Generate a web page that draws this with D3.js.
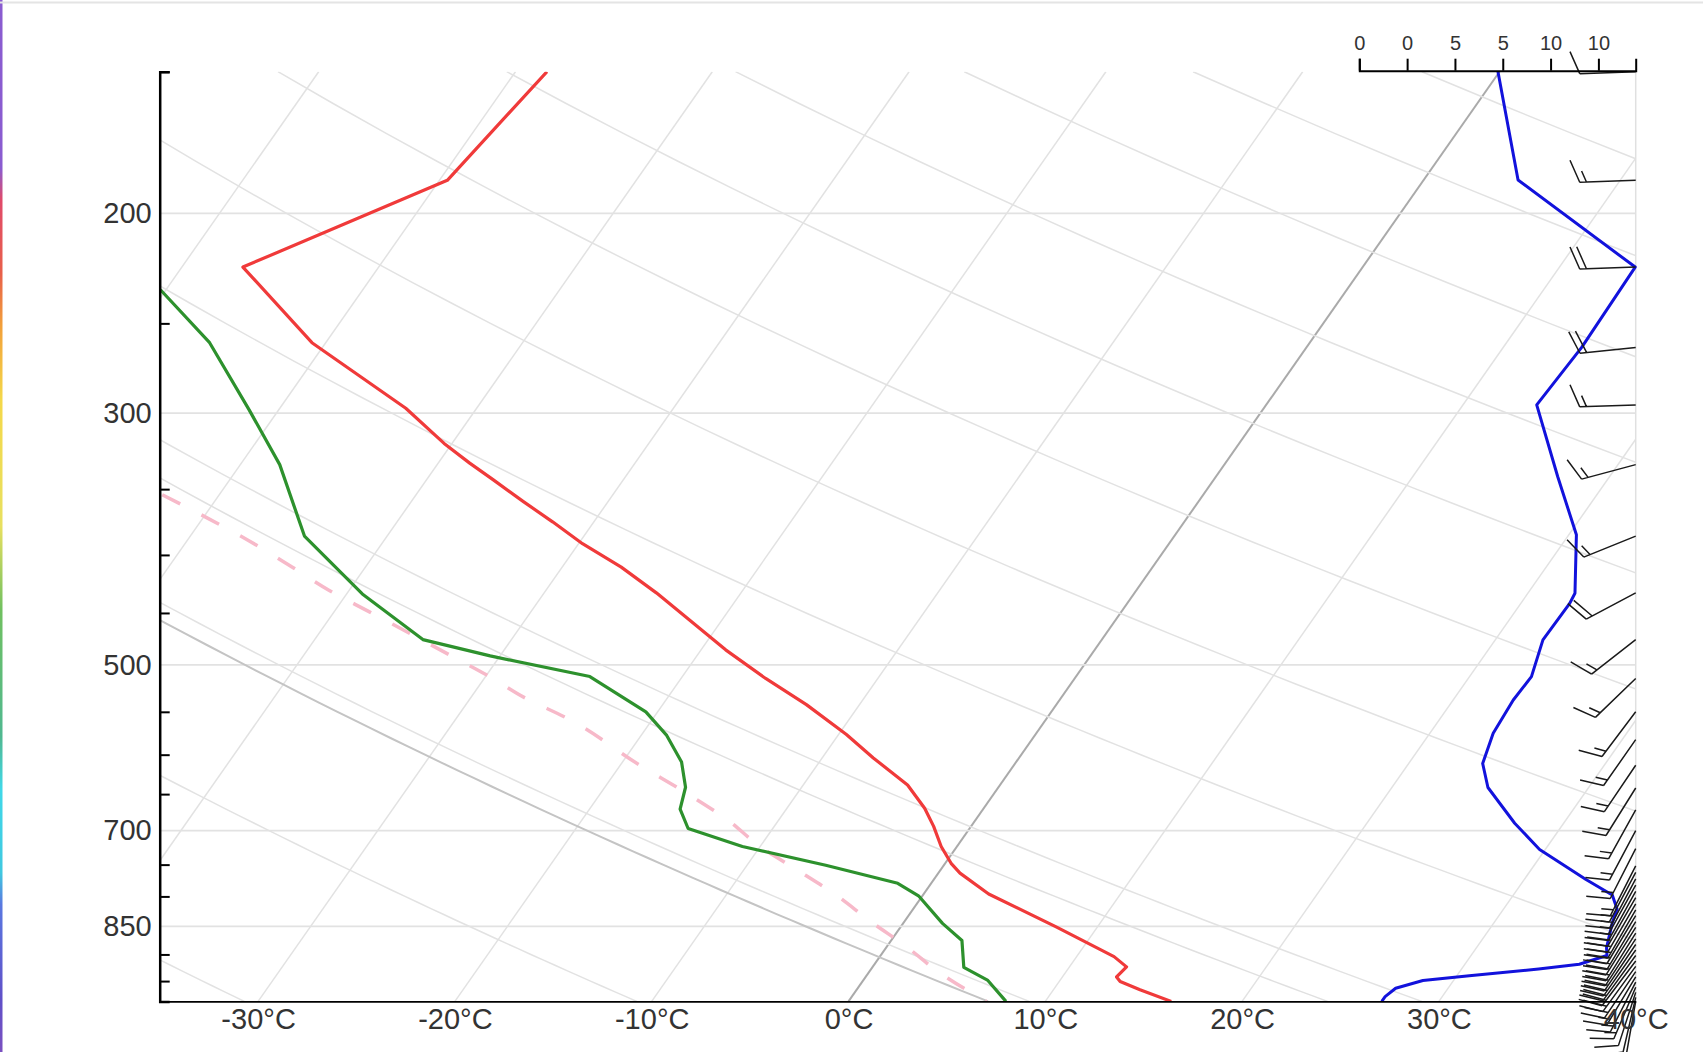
<!DOCTYPE html>
<html><head><meta charset="utf-8">
<script src="https://cdn.jsdelivr.net/npm/d3@7"></script>
<style>
html,body{margin:0;padding:0;background:#fff;}
svg{display:block;font-family:"Liberation Sans",Arial,Helvetica,sans-serif;}
</style></head><body>
<svg id="chart" width="1703" height="1052"></svg>
<script>
// ---------------- data ----------------
// temperature profile
const tempP = [990,967,951,942,923,904,851,796,763,748,723,694,669,638,604,576,542,514,485,432,410,391,374,359,343.5,332,319,297,260,223,187,150];
const tempT = [16.4,14.4,13.1,12.75,12.9,11.9,7.9,3.3,1.1,0.3,-0.8,-1.9,-3.0,-4.7,-7.4,-9.6,-12.7,-15.7,-18.75,-24.3,-27.0,-29.8,-32.1,-34.3,-36.6,-38.4,-40.4,-43.6,-50.7,-56.9,-49.6,-48.4];
// dewpoint profile
const dewP = [990,948,924,875,845,799,779,751,723,697,670,641,609,577,550,512,491,475,433,385,333,298,260,234,200];
const dewT = [8.0,6.3,4.65,3.6,2.0,-0.2,-1.7,-6.0,-10.9,-14.3,-15.4,-15.9,-17.0,-18.7,-20.6,-24.7,-30.5,-34.5,-39.2,-44.2,-48.0,-51.5,-55.9,-60.2,-68];
// parcel (moist) path, pink dashed, listed from top to bottom
const parcelP = [354,371,389,408,430,449,490,512,535,557,613,647,685,723,758,795,842,886,935,990];
const parcelT = [-52.9,-49.8,-46.8,-44.0,-41.0,-38.2,-32.6,-29.8,-27.2,-24.4,-19.0,-15.8,-12.6,-10.0,-7.3,-4.6,-1.7,1.0,3.66,7.0];
// reference dry adiabats (potential temperature, °C)
const refTheta = [7.9, 25.2];
// wind speed profile (m/s), blue line
const windP = [990,980.6,964,949,940,927,918,902,888.2,844.2,820.6,797.6,772.9,727.2,689.6,641.3,610.8,574.5,537,512.1,475.3,441.3,432.4,384,341.3,295,262.5,223,186.9,150];
const windV = [0.47,0.54,0.76,1.33,2.3,3.75,4.6,5.18,5.17,5.29,5.39,5.29,4.74,3.77,3.25,2.69,2.58,2.80,3.22,3.60,3.84,4.40,4.51,4.54,4.15,3.71,4.65,5.77,3.32,2.90];
// wind barbs: pressure, direction (deg), speed (kt)
const barbP   = [150,187,223,262.5,295,333,385,432,475,514,550,582,613,642,671,700,726,752,762,772,782,792,802,812,822,832,842,852,862,872,882,892,902,912,922,932,942,952,962,972,982,990];
const barbDir = [268,268,268,264,268,255,248,242,232,226,217,215,214,212,209,208,207,207,208,208,209,209,210,210,210,211,211,212,212,213,214,215,216,217,216,214,211,207,203,198,193,190];
const barbSpd = [10,15,20,20,15,15,15,20,15,15,15,15,15,15,15,15,15,15,15,15,15,15,20,20,20,20,20,20,20,20,20,20,20,20,20,20,15,15,15,10,10,10];
// axes
const pressureLabels = [200,300,500,700,850];
const pressureMinorTicks = [950,900,800,750,650,600,550,450,400,350,250,150];
const isobarLevels = [1000,850,700,500,300,200,100];
const tempTicks = [-30,-20,-10,0,10,20,30,40];
const speedTicks = [0,1,2,3,4,5];
const speedTickLabels = ["0","0","5","5","10","10"];

// ---------------- layout ----------------
const svg = d3.select("#chart");
const W = 1703, H = 1052;
const m = {left:159.7, top:71.7};
const w = 1476, h = 929.7;
const topP = 150, baseP = 990;
const tan = Math.tan(55*Math.PI/180);

const x = d3.scaleLinear().domain([-35,40]).range([0,w]);
const y = d3.scaleLog().domain([topP,baseP]).range([0,h]);
const xs = d3.scaleLinear().domain([0,5.78]).range([1199.6,w]);
const sx = (T,p) => x(T) + (h - y(p))/tan;

// background bits
const defs = svg.append("defs");
const grad = defs.append("linearGradient").attr("id","strip").attr("x1",0).attr("x2",0).attr("y1",0).attr("y2",1);
[["0","#8a5cd0"],["0.16","#8a5cd0"],["0.19","#e04a6a"],["0.26","#e8604a"],["0.31","#f2a03a"],["0.38","#f4d84a"],["0.50","#e8e060"],["0.58","#70c060"],["0.70","#50b890"],["0.75","#40d8e8"],["0.83","#40c8e0"],["0.86","#5a78e0"],["0.95","#6050c8"],["1","#7a50c0"]]
  .forEach(s=>grad.append("stop").attr("offset",s[0]).attr("stop-color",s[1]));
svg.append("rect").attr("x",0).attr("y",0).attr("width",2.5).attr("height",H).attr("fill","url(#strip)");
svg.append("line").attr("x1",0).attr("x2",W).attr("y1",2.5).attr("y2",2.5).attr("stroke","#e4e4e4").attr("stroke-width",2);

defs.append("clipPath").attr("id","clip").append("rect").attr("x",0).attr("y",0).attr("width",w).attr("height",h);

const g = svg.append("g").attr("transform",`translate(${m.left},${m.top})`);
const grid = g.append("g").attr("clip-path","url(#clip)");

// isotherms
const isoT = d3.range(-100,50,10);
grid.selectAll("line.iso").data(isoT).join("line")
  .attr("x1",d=>sx(d,baseP)).attr("y1",y(baseP))
  .attr("x2",d=>sx(d,topP)).attr("y2",y(topP))
  .attr("stroke",d=>d===0?"#aaaaaa":"#e2e2e2")
  .attr("stroke-width",d=>d===0?2:1.5);

// isobars
grid.selectAll("line.isobar").data(isobarLevels).join("line")
  .attr("x1",0).attr("x2",w).attr("y1",d=>y(d)).attr("y2",d=>y(d))
  .attr("stroke","#e2e2e2").attr("stroke-width",1.8);

// dry adiabats
const pp = d3.range(topP,baseP+1,10).concat([baseP]);
const dryLine = th => d3.line()
  .x(p=>sx((th+273.15)/Math.pow(1000/p,0.286)-273.15,p))
  .y(p=>y(p))(pp);
grid.selectAll("path.dry").data(d3.range(-30,240,20)).join("path")
  .attr("d",dryLine).attr("fill","none").attr("stroke","#e2e2e2").attr("stroke-width",1.5);
grid.selectAll("path.ref").data(refTheta).join("path")
  .attr("d",dryLine).attr("fill","none")
  .attr("stroke",(d,i)=>i===0?"#c4c4c4":"#e0e0e0")
  .attr("stroke-width",(d,i)=>i===0?2:1.5);

// right border
g.append("line").attr("x1",w).attr("x2",w).attr("y1",0).attr("y2",h).attr("stroke","#e0e0e0").attr("stroke-width",1.5);

// data lines
const lines = g.append("g").attr("clip-path","url(#clip)");
const tLine = d3.line().x(d=>sx(d[1],d[0])).y(d=>y(d[0]));
lines.append("path").datum(d3.zip(parcelP,parcelT)).attr("d",tLine.curve(d3.curveMonotoneY))
  .attr("fill","none").attr("stroke","#f7b9c9").attr("stroke-width",3.5).attr("stroke-dasharray","20,24");
tLine.curve(d3.curveLinear);
lines.append("path").datum(d3.zip(tempP,tempT)).attr("d",tLine)
  .attr("fill","none").attr("stroke","#f03a3a").attr("stroke-width",3.2).attr("stroke-linejoin","round");
lines.append("path").datum(d3.zip(dewP,dewT)).attr("d",tLine)
  .attr("fill","none").attr("stroke","#2d912d").attr("stroke-width",3.2).attr("stroke-linejoin","round");

// wind speed line
g.append("path").datum(d3.zip(windP,windV))
  .attr("d",d3.line().x(d=>xs(d[1])).y(d=>y(d[0])))
  .attr("fill","none").attr("stroke","#1212dc").attr("stroke-width",3).attr("stroke-linejoin","round");

// wind barbs
const k = 2.24;
function barbPath(spd){
  let s = `M0,0L0,${25*k}`;
  const flags = Math.floor(spd/50);
  const pen = Math.floor((spd-flags*50)/10);
  const half = Math.floor((spd-flags*50-pen*10)/5);
  let px = 25;
  for(let i=0;i<flags;i++){ s+=`M0,${px*k}L${-10*k},${px*k}L0,${(px-4)*k}Z`; px-=7; }
  for(let i=0;i<pen;i++){ s+=`M0,${px*k}L${-10*k},${(px+4)*k}`; px-=3; }
  for(let i=0;i<half;i++){ s+=`M0,${px*k}L${-5*k},${(px+2)*k}`; px-=3; }
  return s;
}
g.append("g").selectAll("path").data(d3.range(barbP.length)).join("path")
  .attr("transform",i=>`translate(${w},${y(barbP[i])}) rotate(${barbDir[i]+180})`)
  .attr("d",i=>barbPath(barbSpd[i]))
  .attr("fill","none").attr("stroke","#1a1a1a").attr("stroke-width",1.5);

// axes
const axL = g.append("g").call(d3.axisLeft(y).tickValues(pressureLabels).tickSize(0).tickPadding(8).tickFormat(d3.format("d")));
axL.select(".domain").remove();
axL.selectAll("text").attr("font-size",29).attr("fill","#333").attr("font-family","Liberation Sans, Arial, sans-serif");

const axR = g.append("g").call(d3.axisRight(y).tickValues(pressureMinorTicks).tickSizeInner(10).tickSizeOuter(10).tickFormat(""));
axR.select(".domain").attr("stroke","#000").attr("stroke-width",2.5);
axR.selectAll(".tick line").attr("stroke","#000").attr("stroke-width",2);

const axB = g.append("g").attr("transform",`translate(0,${h})`)
  .call(d3.axisBottom(x).tickValues(tempTicks).tickSize(0).tickPadding(7).tickFormat(d=>d+"°C"));
axB.select(".domain").attr("stroke","#000").attr("stroke-width",1.8);
axB.selectAll("text").attr("font-size",29).attr("fill","#333").attr("font-family","Liberation Sans, Arial, sans-serif");

const axS = g.append("g").attr("transform","translate(0,-1)")
  .call(d3.axisTop(xs).tickValues(speedTicks).tickSizeInner(12).tickSizeOuter(12).tickPadding(9).tickFormat((d,i)=>speedTickLabels[i]));
axS.select(".domain").attr("stroke","#000").attr("stroke-width",2);
axS.selectAll(".tick line").attr("stroke","#000").attr("stroke-width",2);
axS.selectAll("text").attr("font-size",20).attr("fill","#333").attr("font-family","Liberation Sans, Arial, sans-serif");
</script>
</body></html>
